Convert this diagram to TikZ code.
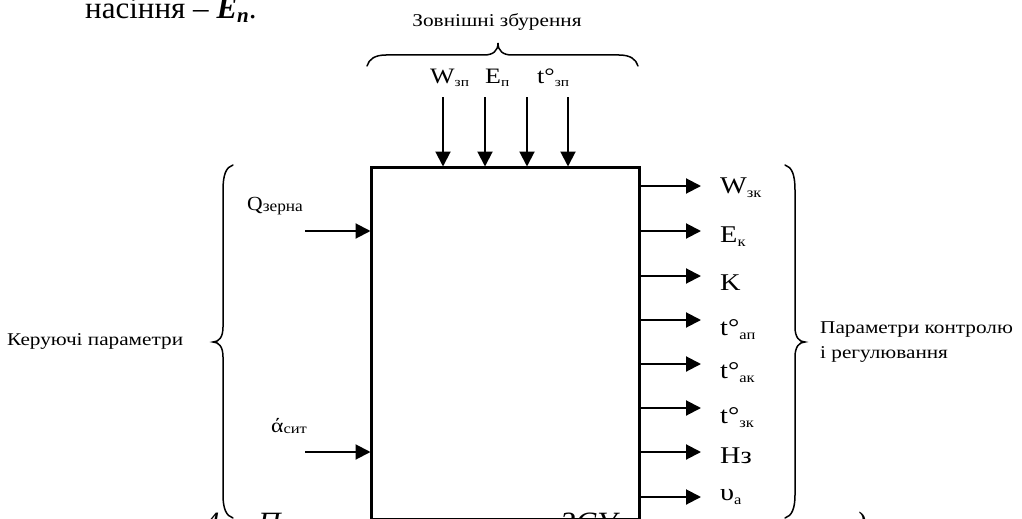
\documentclass[tikz,border=0pt]{standalone}
\usepackage{fontspec}
\setmainfont{Liberation Serif}
\usetikzlibrary{arrows.meta}
\newcommand\fs[1]{\fontsize{#1}{#1}\selectfont}
\newcommand\subR[1]{\raisebox{-4pt}{\fs{14}#1}}
\newcommand\subT[1]{\raisebox{-3pt}{\fs{13}#1}}
% the block labels are set a little wider than the plain font
\newcommand\wx[1]{\scalebox{1.18}[1]{#1}}
\tikzset{
  x=1pt, y=-1pt,
  arr/.style={line width=2pt, -{Triangle[length=15pt,width=15pt]}, shorten >=-1pt},
  brace/.style={line width=1.5pt, line cap=round},
  lblR/.style={anchor=base west, inner sep=0pt, font=\fs{24}},
  lblT/.style={anchor=base west, inner sep=0pt, font=\fs{22}},
  note/.style={anchor=base west, inner sep=0pt, font=\fontsize{18}{25}\selectfont},
  capfrag/.style={anchor=base west, inner sep=0pt, font=\fs{31}\itshape},
}
\begin{document}
\begin{tikzpicture}
\useasboundingbox (0,0) rectangle (1022,519);
\fill[white] (0,0) rectangle (1022,519);

% text line above the scheme
\node[anchor=base west, inner sep=0pt, font=\fs{31}] (prev) at (85,19)
  {насіння -- \textbf{\textit{E\raisebox{-4pt}{\fs{21}n}}}.};

% the object block
\node[draw, line width=3pt, minimum width=268pt, minimum height=352pt,
      inner sep=0pt, anchor=north west] (box) at (369.5,165.5) {};

% external disturbances
\node[note, anchor=base] (distT) at (497,27) {\wx{Зовнішні збурення}};
\draw[brace] (367,66) .. controls (369,59) and (375,55) .. (386,55) -- (484,55)
  .. controls (493,55) and (498,51) .. (498,43)
  .. controls (498,51) and (503,55) .. (512,55) -- (619,55)
  .. controls (630,55) and (636,59) .. (638,66);
\node[lblT] (wzp) at (430,83) {\wx{W\subT{зп}}};
\node[lblT] (ep) at (485,83) {\wx{E\subT{п}}};
\node[lblT] (tzp) at (537,83) {\wx{t°\subT{зп}}};
\foreach \n/\x in {d1/443, d2/485, d3/527, d4/568} {
  \coordinate (\n) at (\x,97);
  \draw[arr] (\n) -- (\n |- box.north);
}

% control inputs
\node[note] (ctrl) at (7,345) {\wx{Керуючі параметри}};
\draw[brace] (233,165) .. controls (226,167) and (223,175) .. (223,190) -- (223,327)
  .. controls (223,337) and (219,342) .. (213,342)
  .. controls (219,342) and (223,347) .. (223,357) -- (223,495)
  .. controls (223,508) and (226,516) .. (233,518);
\node[anchor=base west, inner sep=0pt] (qz) at (247,210)
  {\scalebox{1.08}[1]{\fs{20}Q\raisebox{-1pt}{\fs{16}зерна}}};
\node[anchor=base west, inner sep=0pt] (asit) at (271,432)
  {\wx{\fs{20}ά\raisebox{-1pt}{\fs{14}сит}}};
\coordinate (qin) at (305,231);
\coordinate (ain) at (305,452);
\draw[arr] (qin) -- (qin -| box.west);
\draw[arr] (ain) -- (ain -| box.west);

% controlled and regulated outputs
\foreach \n/\y in {o1/186, o2/231, o3/276, o4/320, o5/364, o6/408, o7/452, o8/497} {
  \coordinate (\n) at (700,\y);
  \draw[arr] (\n -| box.east) -- (\n);
}
\node[lblR] (wzk) at (720,193) {\wx{W\subR{зк}}};
\node[lblR] (ek) at (720,242) {\wx{E\subR{к}}};
\node[lblR] (kk) at (720,290) {\wx{K}};
\node[lblR] (tap) at (720,335) {\wx{t°\subR{ап}}};
\node[lblR] (tak) at (720,378) {\wx{t°\subR{ак}}};
\node[lblR] (tzk) at (720,423) {\wx{t°\subR{зк}}};
\node[lblR] (hz) at (720,463) {\wx{Нз}};
\node[lblR] (va) at (720,500) {\wx{υ\subR{a}}};
\draw[brace] (785,165) .. controls (792,167) and (795,175) .. (795,190) -- (795,327)
  .. controls (795,337) and (799,342) .. (805,342)
  .. controls (799,342) and (795,347) .. (795,357) -- (795,495)
  .. controls (795,508) and (792,516) .. (785,518);
\node[note] (monit) at (820,333)
  {\wx{\begin{tabular}[t]{@{}l@{}}Параметри контролю\\і регулювання\end{tabular}}};

% caption line below, cut by the page edge
\node[capfrag] (c1) at (204,533) {4};
\node[capfrag] (c2) at (258,533) {П};
\node[capfrag] (c3) at (560,533) {ЗСУ};
\node[capfrag] (c4) at (856,533) {)};
\end{tikzpicture}
\end{document}
